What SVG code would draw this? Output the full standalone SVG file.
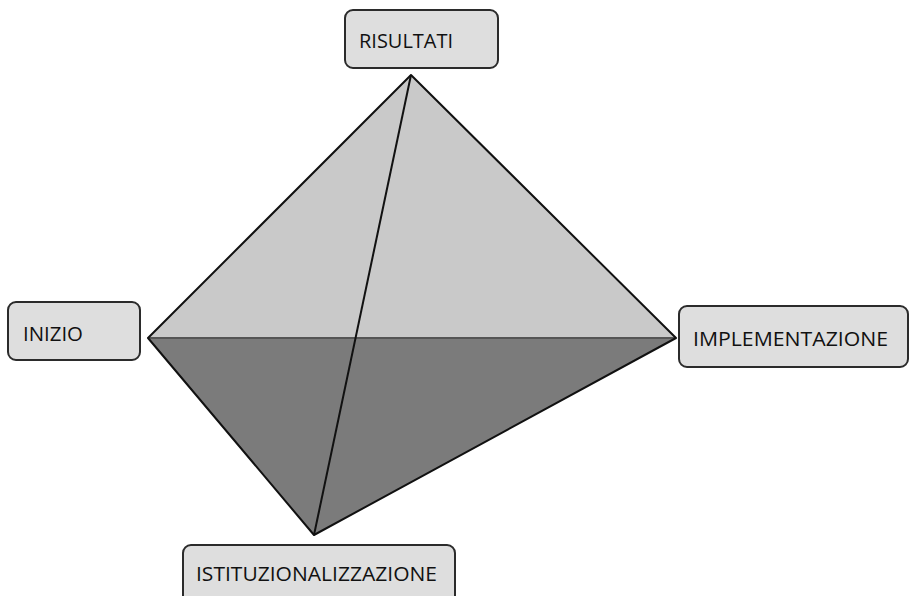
<svg xmlns="http://www.w3.org/2000/svg" width="911" height="596" viewBox="0 0 911 596">
<style>
.box{fill:#dedede;stroke:#2b2b2b;stroke-width:2}
.lbl{font-family:"Open Sans","Noto Sans",sans-serif;font-size:20px;fill:#111}
.edge{stroke:#111;stroke-width:2;fill:none;stroke-linejoin:round}
</style>
<rect width="911" height="596" fill="#fff"/>
<g id="pyramid">
<polygon points="411,75 148,338 676,338" fill="#c9c9c9"/>
<polygon points="148,338 676,338 314,535" fill="#7b7b7b"/>
<line x1="148" y1="338" x2="676" y2="338" stroke="#555" stroke-width="2"/>
</g>
<g id="connectors">
<polygon class="edge" points="411,75 148,338 314,535 676,338"/>
<line class="edge" x1="411" y1="75" x2="314" y2="535"/>
</g>
<g id="risultati">
<rect class="box" x="345" y="10" width="153" height="58" rx="8"/>
<text class="lbl" x="359" y="48" textLength="94" lengthAdjust="spacingAndGlyphs">RISULTATI</text>
</g>
<g id="inizio">
<rect class="box" x="8" y="302" width="132" height="58" rx="8"/>
<text class="lbl" x="23" y="341" textLength="60" lengthAdjust="spacingAndGlyphs">INIZIO</text>
</g>
<g id="implementazione">
<rect class="box" x="679" y="306" width="229" height="61" rx="8"/>
<text class="lbl" x="693" y="346" textLength="195" lengthAdjust="spacingAndGlyphs">IMPLEMENTAZIONE</text>
</g>
<g id="istituzionalizzazione">
<rect class="box" x="183" y="545" width="272" height="60" rx="8"/>
<text class="lbl" x="196" y="581" textLength="241" lengthAdjust="spacingAndGlyphs">ISTITUZIONALIZZAZIONE</text>
</g>
</svg>
